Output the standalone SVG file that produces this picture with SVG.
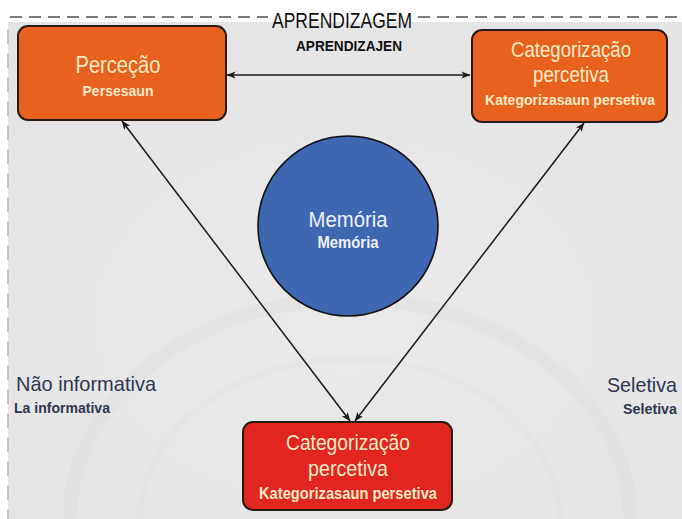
<svg xmlns="http://www.w3.org/2000/svg" width="682" height="519" viewBox="0 0 682 519">
<defs>
<style>
.t{font-family:"Liberation Sans",Arial,sans-serif;text-anchor:middle}
.box{stroke:#2a1a10;stroke-width:2}
.lt{fill:#fbe9c4}
.dk{fill:#30364f}
.conn{stroke:#1a1a1a;stroke-width:1.5;fill:none;marker-start:url(#ah);marker-end:url(#ah)}
</style>
<marker id="ah" viewBox="0 0 10 10" refX="9.5" refY="5" markerWidth="9" markerHeight="9" orient="auto-start-reverse" markerUnits="userSpaceOnUse">
<path d="M0,1 L10,5 L0,9 L2.5,5 z" fill="#1a1a1a"/>
</marker>
<radialGradient id="bg" cx="0.5" cy="0.6" r="0.75">
<stop offset="0" stop-color="#eaeaea"/>
<stop offset="1" stop-color="#e4e4e4"/>
</radialGradient>
</defs>
<rect x="0" y="0" width="682" height="519" fill="#ffffff"/>
<rect x="8" y="22" width="674" height="497" fill="url(#bg)"/>
<path d="M70,519 A280,220 0 0 1 630,519" fill="none" stroke="#dedede" stroke-width="14" opacity="0.45"/>
<path d="M140,519 A210,160 0 0 1 560,519" fill="none" stroke="#e0e0e0" stroke-width="6" opacity="0.4"/>
<g id="frame" fill="none">
<line x1="10" y1="17" x2="268" y2="17" stroke="#7a7a7a" stroke-width="2" stroke-dasharray="12,7"/>
<line x1="418" y1="17" x2="682" y2="17" stroke="#7a7a7a" stroke-width="2" stroke-dasharray="12,7"/>
<line x1="8" y1="30" x2="8" y2="519" stroke="#b5b5b5" stroke-width="1.5" stroke-dasharray="14,10"/>
</g>
<g id="title">
<text class="t" x="342" y="28" font-size="22" fill="#111" textLength="140" lengthAdjust="spacingAndGlyphs">APRENDIZAGEM</text>
<text class="t" x="349" y="51" font-size="15" font-weight="bold" fill="#111" textLength="106" lengthAdjust="spacingAndGlyphs">APRENDIZAJEN</text>
</g>
<g id="connectors">
<line class="conn" x1="227" y1="75" x2="470" y2="75"/>
<line class="conn" x1="122" y1="121" x2="350" y2="421"/>
<line class="conn" x1="584" y1="123" x2="355" y2="421"/>
</g>
<g id="percecao">
<rect class="box" x="18" y="26" width="208" height="94" rx="10" fill="#e8621f"/>
<text class="t lt" x="118" y="73" font-size="23" textLength="85" lengthAdjust="spacingAndGlyphs">Perceção</text>
<text class="t lt" x="118" y="96" font-size="15" font-weight="bold" textLength="71" lengthAdjust="spacingAndGlyphs">Persesaun</text>
</g>
<g id="categorizacao-top">
<rect class="box" x="472" y="30" width="195" height="92" rx="10" fill="#e8621f"/>
<text class="t lt" x="571" y="57" font-size="22" textLength="120" lengthAdjust="spacingAndGlyphs">Categorização</text>
<text class="t lt" x="571" y="82" font-size="22" textLength="76" lengthAdjust="spacingAndGlyphs">percetiva</text>
<text class="t lt" x="570" y="105" font-size="15" font-weight="bold" textLength="170" lengthAdjust="spacingAndGlyphs">Kategorizasaun persetiva</text>
</g>
<g id="memoria">
<circle cx="348" cy="226" r="90" fill="#3f66b0" stroke="#111" stroke-width="1.6"/>
<text class="t" x="348" y="227" font-size="22" fill="#eef0f6" textLength="79" lengthAdjust="spacingAndGlyphs">Memória</text>
<text class="t" x="348" y="248" font-size="16" font-weight="bold" fill="#eef0f6" textLength="61" lengthAdjust="spacingAndGlyphs">Memória</text>
</g>
<g id="categorizacao-bottom">
<rect class="box" x="243" y="422" width="209" height="88" rx="10" fill="#e0261e"/>
<text class="t lt" x="348" y="450" font-size="22" textLength="124" lengthAdjust="spacingAndGlyphs">Categorização</text>
<text class="t lt" x="348" y="476" font-size="22" textLength="80" lengthAdjust="spacingAndGlyphs">percetiva</text>
<text class="t lt" x="348" y="499" font-size="16" font-weight="bold" textLength="178" lengthAdjust="spacingAndGlyphs">Kategorizasaun persetiva</text>
</g>
<g id="nao-informativa">
<text class="t dk" x="16" y="391" font-size="21" style="text-anchor:start" textLength="140" lengthAdjust="spacingAndGlyphs">Não informativa</text>
<text class="t dk" x="14" y="413" font-size="15" font-weight="bold" style="text-anchor:start" textLength="96" lengthAdjust="spacingAndGlyphs">La informativa</text>
</g>
<g id="seletiva">
<text class="t dk" x="607" y="392" font-size="21" style="text-anchor:start" textLength="70" lengthAdjust="spacingAndGlyphs">Seletiva</text>
<text class="t dk" x="623" y="414" font-size="15" font-weight="bold" style="text-anchor:start" textLength="54" lengthAdjust="spacingAndGlyphs">Seletiva</text>
</g>
</svg>
